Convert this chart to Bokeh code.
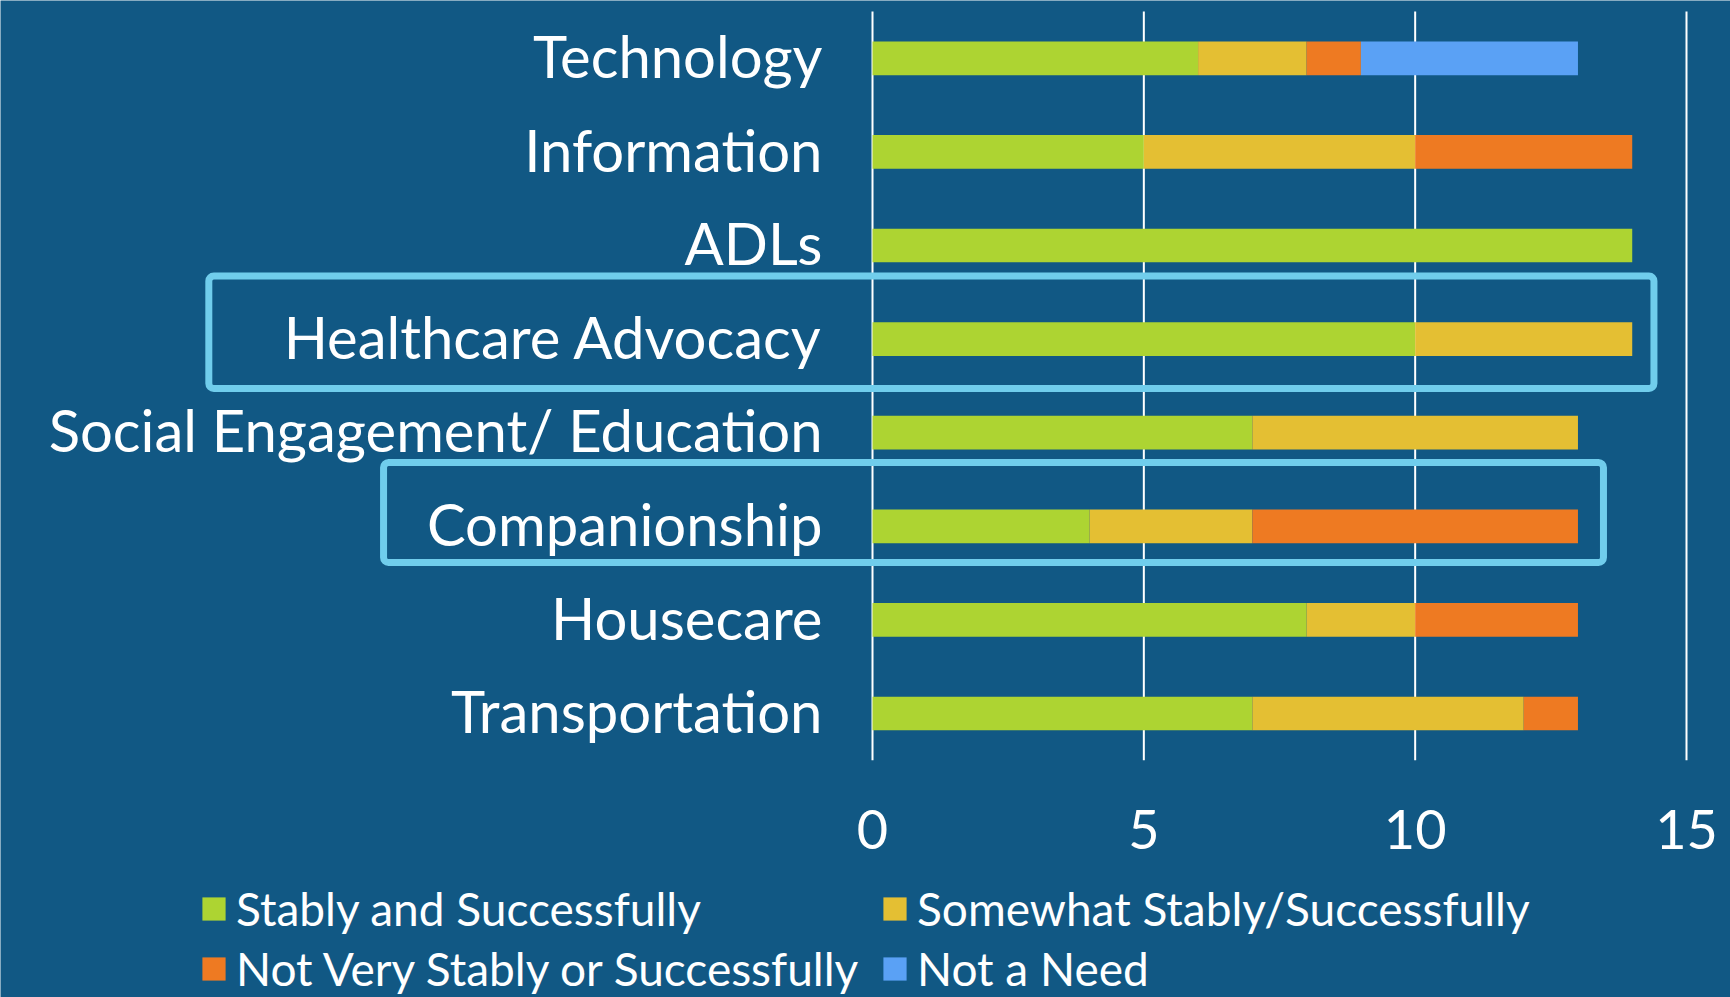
from bokeh.plotting import figure
from bokeh.models import (Range1d, ColumnDataSource, Legend, LegendItem,
                          BoxAnnotation, FixedTicker, LinearAxis)
from bokeh.embed import file_html
from bokeh.resources import INLINE

# ---- data ----
categories = ["Technology", "Information", "ADLs", "Healthcare Advocacy",
              "Social Engagement/ Education", "Companionship", "Housecare", "Transportation"]
stably = [6, 5, 14, 10, 7, 4, 8, 7]
somewhat = [2, 5, 0, 4, 6, 3, 2, 5]
not_very = [1, 4, 0, 0, 0, 6, 3, 1]
not_need = [4, 0, 0, 0, 0, 0, 0, 0]
series_names = ["Stably and Successfully", "Somewhat Stably/Successfully",
                "Not Very Stably or Successfully", "Not a Need"]
x_ticks = [0, 5, 10, 15]
highlighted = ["Healthcare Advocacy", "Companionship"]

# ---- style ----
FONT = "Lato"
BG = "#115884"
colors = ["#add432", "#e4bf33", "#ee7a22", "#5aa1f5"]
HILITE = "#70cdec"

W, H = 1730, 997
n = len(categories)
# category positions: first category at the top
ypos = [n - 1 - i for i in range(n)]
LABEL_LIFT = 0.03  # small upward nudge of the category labels

# frame covers the whole canvas; ranges chosen so the data area sits where the reference has it
px_x = 814 / 15.0          # pixels per x unit
x0_px = 872                # screen x of value 0
px_y = 93.6                # pixels per category
top_px = 11                # screen y of the top of the category band
x_range = Range1d(-x0_px / px_x, 15 + (W - x0_px - 814) / px_x)
y_end = (n - 0.5) + top_px / px_y
y_range = Range1d(y_end - H / px_y, y_end)

p = figure(width=W, height=H, x_range=x_range, y_range=y_range,
           output_backend="svg", toolbar_location=None,
           x_axis_location=None, y_axis_location=None,
           min_border=0, min_border_left=0, min_border_right=0,
           min_border_top=0, min_border_bottom=0,
           background_fill_color=BG, border_fill_color=BG, outline_line_color=None)
p.xgrid.visible = False
p.ygrid.visible = False

# vertical grid lines at the tick values, spanning the category band
p.segment(x0=x_ticks, x1=x_ticks, y0=[-0.5] * len(x_ticks), y1=[n - 0.5] * len(x_ticks),
          line_color="white", line_width=2)

src = ColumnDataSource(dict(y=ypos, s1=stably, s2=somewhat, s3=not_very, s4=not_need))
rs = p.hbar_stack(["s1", "s2", "s3", "s4"], y="y", height=0.36,
                  fill_color=colors, line_color=None, source=src)

# x axis (drawn inside the frame at the bottom of the category band)
xaxis = LinearAxis(fixed_location=-0.5, ticker=FixedTicker(ticks=x_ticks),
                   axis_line_color=None, major_tick_line_color=None,
                   minor_tick_line_color=None, major_tick_out=0, major_tick_in=0,
                   major_label_text_color="white", major_label_text_font=FONT,
                   major_label_text_font_size="54px", major_label_standoff=50)
p.add_layout(xaxis, "below")

# y axis with category names
label_ticks = [pos + LABEL_LIFT for pos in ypos]
yaxis = LinearAxis(fixed_location=0, ticker=FixedTicker(ticks=label_ticks),
                   major_label_overrides={t: name for t, name in zip(label_ticks, categories)},
                   axis_line_color=None, major_tick_line_color=None,
                   minor_tick_line_color=None, major_tick_out=0, major_tick_in=0,
                   major_label_text_color="white", major_label_text_font=FONT,
                   major_label_text_font_size="58px", major_label_standoff=50)
p.add_layout(yaxis, "left")

# highlight boxes
box_geom = {
    "Healthcare Advocacy": dict(left=-12.23, right=14.40, up=0.674, down=0.528),
    "Companionship": dict(left=-9.01, right=13.47, up=0.682, down=0.387),
}
for name in highlighted:
    g = box_geom[name]
    c = ypos[categories.index(name)]
    p.add_layout(BoxAnnotation(left=g["left"], right=g["right"],
                               top=c + g["up"], bottom=c - g["down"],
                               fill_alpha=0, line_color=HILITE, line_alpha=1, line_width=7,
                               border_radius=5, level="overlay"))

legend = Legend(items=[LegendItem(label=nm, renderers=[r]) for nm, r in zip(series_names, rs)],
                location=(199, 1), orientation="horizontal", ncols=2,
                glyph_width=29, glyph_height=29, label_standoff=8, spacing=4,
                padding=0, margin=0, border_line_color=None, background_fill_alpha=0,
                label_text_color="white", label_text_font=FONT, label_text_font_size="46px",
                label_width=640, label_height=56)
p.add_layout(legend)

open("out.html", "w").write(file_html(p, INLINE))
